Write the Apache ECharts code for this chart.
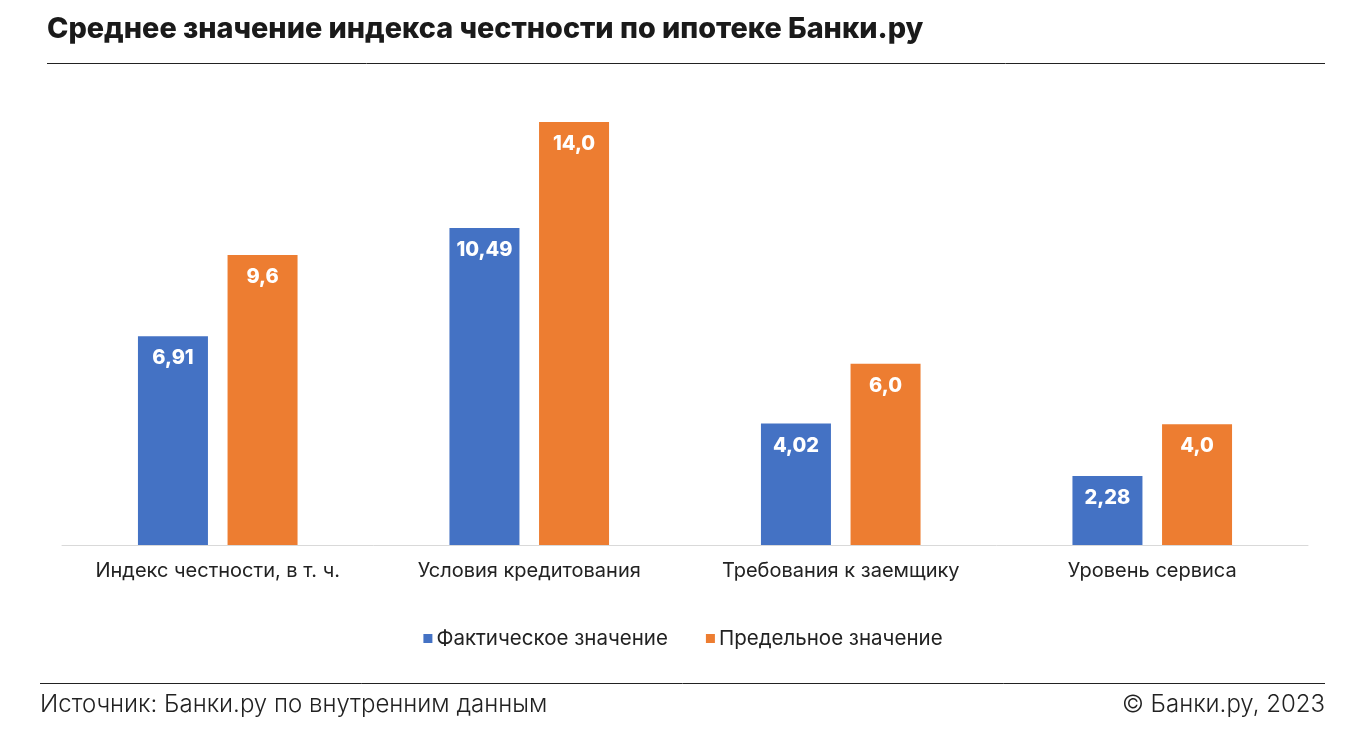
<!DOCTYPE html>
<html><head><meta charset="utf-8">
<script src="https://cdn.jsdelivr.net/npm/echarts@6/dist/echarts.min.js"></script>
<style>html,body{margin:0;padding:0;background:#fff}#c{width:1366px;height:740px}</style>
</head><body><div id="c"></div>
<script>
const categories = ['Индекс честности, в т. ч.', 'Условия кредитования', 'Требования к заемщику', 'Уровень сервиса'];
const actualValues = [6.91, 10.49, 4.02, 2.28];
const limitValues = [9.6, 14.0, 6.0, 4.0];
const actualLabels = ['6,91', '10,49', '4,02', '2,28'];
const limitLabels = ['9,6', '14,0', '6,0', '4,0'];
const seriesNames = ['Фактическое значение', 'Предельное значение'];
const titleText = 'Среднее значение индекса честности по ипотеке Банки.ру';
const sourceText = 'Источник: Банки.ру по внутренним данным';
const copyText = '© Банки.ру, 2023';

const chart = echarts.init(document.getElementById('c'));
const font = 'Inter';
chart.setOption({
  animation: false,
  backgroundColor: '#fff',
  graphic: [
    {type:'text', left:47, top:15, style:{text:titleText, font:'800 28.8px Inter', fill:'#1a1a1a'}},
    {type:'line', shape:{x1:47,y1:63.5,x2:1325,y2:63.5}, style:{stroke:'#222', lineWidth:1}},
    {type:'line', shape:{x1:40,y1:683.5,x2:1325,y2:683.5}, style:{stroke:'#222', lineWidth:1}},
    {type:'text', left:40, top:693, style:{text:sourceText, font:'300 24px Inter', fill:'#222'}},
    {type:'text', right:41, top:693, style:{text:copyText, font:'300 24px Inter', fill:'#222'}}
  ],
  legend: {
    data: seriesNames, top: 623, left: 'center',
    itemWidth: 9, itemHeight: 9, itemGap: 38, icon: 'rect',
    textStyle: {fontFamily: font, fontSize: 20.5, color: '#222', padding:[0,0,0,-1]}
  },
  grid: {left: 62, right: 58, top: 122, bottom: 195},
  xAxis: {
    type: 'category', data: categories,
    axisLine: {lineStyle: {color: '#d9d9d9', width: 1}},
    axisTick: {show: false},
    axisLabel: {interval: 0, fontFamily: font, fontSize: 20, color: '#222', margin: 16}
  },
  yAxis: {type: 'value', min: 0, max: 14, show: false, splitLine: {show: false}},
  series: [
    {name: seriesNames[0], type: 'bar', data: actualValues, barWidth: 70, barGap: '28%',
     itemStyle: {color: '#4472C4'},
     label: {show: true, position: 'insideTop', distance: 12, fontFamily: font, fontWeight: 800, fontSize: 20, color: '#fff',
             formatter: p => actualLabels[p.dataIndex]}},
    {name: seriesNames[1], type: 'bar', data: limitValues, barWidth: 70,
     itemStyle: {color: '#ED7D31'},
     label: {show: true, position: 'insideTop', distance: 12, fontFamily: font, fontWeight: 800, fontSize: 20, color: '#fff',
             formatter: p => limitLabels[p.dataIndex]}}
  ]
});
</script></body></html>
